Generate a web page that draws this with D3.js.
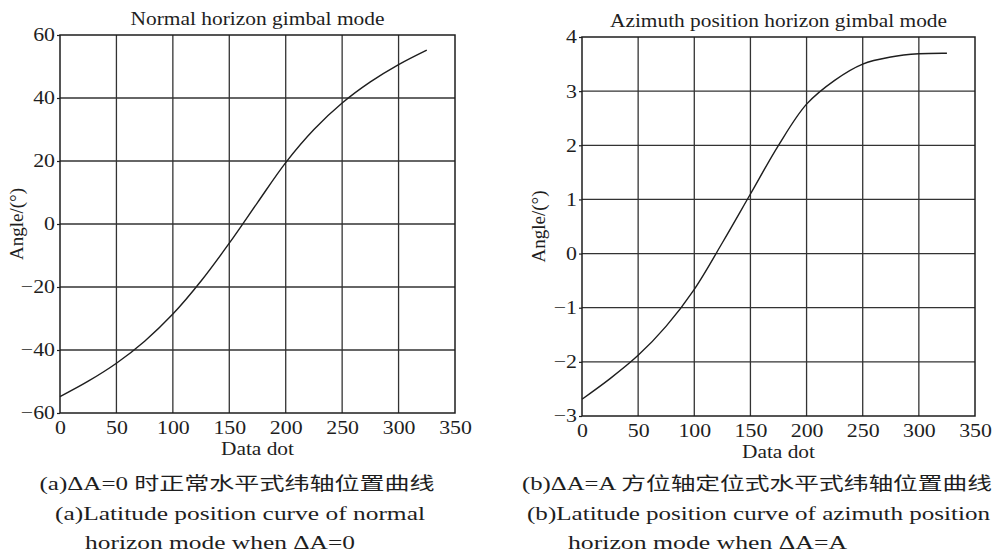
<!DOCTYPE html>
<html>
<head>
<meta charset="utf-8">
<script src="https://cdn.jsdelivr.net/npm/d3@7"></script>
<style>
  body { margin: 0; background: #fff; }
  svg { display: block; }
</style>
</head>
<body>
<svg id="chart" width="995" height="556"></svg>
<script>
// values
const dataDots = [0, 25, 50, 75, 100, 125, 150, 175, 200, 225, 250, 275, 300, 325];
const normalAngle = [-54.8, -49.9, -44.2, -37.2, -28.6, -18.1, -6.1, 6.8, 19.5, 30.0, 38.4, 45.1, 50.6, 55.2];
const azimuthAngle = [-2.69, -2.31, -1.88, -1.34, -0.66, 0.2, 1.1, 2.0, 2.76, 3.2, 3.5, 3.63, 3.69, 3.7];

const xTicks = [0, 50, 100, 150, 200, 250, 300, 350];
const normalTicks = [-60, -40, -20, 0, 20, 40, 60];
const azimuthTicks = [-3, -2, -1, 0, 1, 2, 3, 4];

const titles = ['Normal horizon gimbal mode', 'Azimuth position horizon gimbal mode'];
const captionCn = ['(a)ΔA=0 时正常水平式纬轴位置曲线', '(b)ΔA=A 方位轴定位式水平式纬轴位置曲线'];
const captionEn1 = ['(a)Latitude position curve of normal', '(b)Latitude position curve of azimuth position'];
const captionEn2 = ['horizon mode when ΔA=0', 'horizon mode when ΔA=A'];

const svg = d3.select('#chart');
const serif = '"Liberation Serif", "Times New Roman", "Noto Sans CJK SC", serif';
const ink = '#1e1e1e';

// the scan is wider than a normal Times face, so text is stretched
function widen(text, k) {
  text.each(function () {
    const w = this.getComputedTextLength();
    d3.select(this).attr('textLength', w * k).attr('lengthAdjust', 'spacingAndGlyphs');
  });
}

function fit(text, w) {
  text.attr('textLength', w).attr('lengthAdjust', 'spacingAndGlyphs');
}

const panels = [
  { left: 60, right: 455, top: 35, bottom: 413, yTicks: normalTicks, values: normalAngle,
    title: titles[0], titleW: 254, cap: 0,
    capX: 237, capW: 395, en1X: 55, en1W: 370, en2X: 85, en2W: 270 },
  { left: 582, right: 975, top: 37, bottom: 416, yTicks: azimuthTicks, values: azimuthAngle,
    title: titles[1], titleW: 337, cap: 1,
    capX: 757, capW: 470, en1X: 527, en1W: 463, en2X: 568, en2W: 279 },
];

panels.forEach(p => {
  const g = svg.append('g');

  const x = d3.scaleLinear().domain([0, 350]).range([p.left, p.right]);
  const y = d3.scaleLinear().domain(d3.extent(p.yTicks)).range([p.bottom, p.top]);

  // grid
  g.append('g')
    .selectAll('line')
    .data(xTicks.slice(1, -1))
    .enter().append('line')
    .attr('x1', d => x(d)).attr('x2', d => x(d))
    .attr('y1', p.top).attr('y2', p.bottom)
    .attr('stroke', '#333').attr('stroke-width', 1.3);

  g.append('g')
    .selectAll('line')
    .data(p.yTicks.slice(1, -1))
    .enter().append('line')
    .attr('x1', p.left).attr('x2', p.right)
    .attr('y1', d => y(d)).attr('y2', d => y(d))
    .attr('stroke', '#333').attr('stroke-width', 1.3);

  // axes
  const yAxis = g.append('g')
    .attr('transform', `translate(${p.left},0)`)
    .call(d3.axisLeft(y).tickValues(p.yTicks).tickSize(3).tickPadding(2).tickFormat(d3.format('d')))
    .call(a => a.select('.domain').remove());

  const xAxis = g.append('g')
    .attr('transform', `translate(0,${p.bottom})`)
    .call(d3.axisBottom(x).tickValues(xTicks).tickSize(0).tickPadding(8).tickFormat(d3.format('d')))
    .call(a => a.select('.domain').remove());

  [yAxis, xAxis].forEach(a => {
    a.selectAll('line').attr('stroke', ink).attr('stroke-width', 1.2);
    a.selectAll('text')
      .attr('fill', ink)
      .style('font-family', serif)
      .style('font-size', '18.5px')
      .call(widen, 1.18);
  });

  // frame
  g.append('rect')
    .attr('x', p.left).attr('y', p.top)
    .attr('width', p.right - p.left).attr('height', p.bottom - p.top)
    .attr('fill', 'none').attr('stroke', ink).attr('stroke-width', 1.5);

  // curve
  const line = d3.line()
    .x((d, i) => x(dataDots[i]))
    .y(d => y(d))
    .curve(d3.curveCatmullRom.alpha(0.5));

  g.append('path')
    .datum(p.values)
    .attr('d', line)
    .attr('fill', 'none')
    .attr('stroke', ink)
    .attr('stroke-width', 1.4);

  const mid = (p.left + p.right) / 2;

  g.append('text')
    .attr('x', mid).attr('y', p.top - 10)
    .attr('text-anchor', 'middle')
    .style('font-family', serif).style('font-size', '19.5px')
    .attr('fill', ink)
    .text(p.title)
    .call(fit, p.titleW);

  g.append('text')
    .attr('x', mid).attr('y', p.bottom + 42)
    .attr('text-anchor', 'middle')
    .style('font-family', serif).style('font-size', '19px')
    .attr('fill', ink)
    .text('Data dot')
    .call(fit, 73);

  g.append('text')
    .attr('transform', `translate(${p.left - 37},${(p.top + p.bottom) / 2}) rotate(-90)`)
    .attr('text-anchor', 'middle')
    .style('font-family', serif).style('font-size', '19px')
    .attr('fill', ink)
    .text('Angle/(°)');

  // captions
  g.append('text')
    .attr('x', p.capX).attr('y', 490)
    .attr('text-anchor', 'middle')
    .style('font-family', serif).style('font-size', '18px')
    .attr('fill', ink)
    .text(captionCn[p.cap])
    .call(fit, p.capW);

  g.append('text')
    .attr('x', p.en1X).attr('y', 520)
    .style('font-family', serif).style('font-size', '18px')
    .attr('fill', ink)
    .text(captionEn1[p.cap])
    .call(fit, p.en1W);

  g.append('text')
    .attr('x', p.en2X).attr('y', 549)
    .style('font-family', serif).style('font-size', '18px')
    .attr('fill', ink)
    .text(captionEn2[p.cap])
    .call(fit, p.en2W);
});
</script>
</body>
</html>
